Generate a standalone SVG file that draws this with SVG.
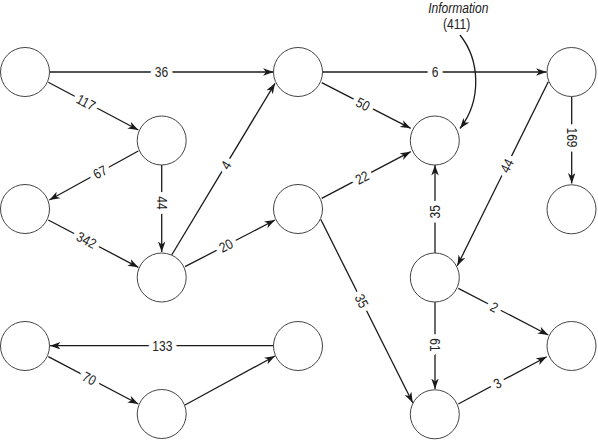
<svg xmlns="http://www.w3.org/2000/svg" width="598" height="441" viewBox="0 0 598 441">
<defs>
<marker id="arr" markerUnits="userSpaceOnUse" markerWidth="11" markerHeight="8" refX="10.5" refY="3.75" orient="auto">
<path d="M0,0 L10.5,3.75 L0,7.5 L3,3.75 Z" fill="#1a1a1a"/>
</marker>
<style>
.n{fill:#fff;stroke:#444;stroke-width:1}
.e{fill:none;stroke:#1a1a1a;stroke-width:1.3;marker-end:url(#arr)}
.u{fill:none;stroke:#1a1a1a;stroke-width:1.3}
.l{font-family:"Liberation Sans",Arial,sans-serif;font-size:14px;fill:#222;text-anchor:middle;stroke:#fff;stroke-width:11;stroke-linejoin:round;paint-order:stroke}
.t{font-family:"Liberation Sans",Arial,sans-serif;font-size:14px;fill:#222;text-anchor:middle}
</style>
</defs>
<rect width="598" height="441" fill="#fff"/>
<g id="connectors">
<line class="e" x1="50" y1="72" x2="273.5" y2="72"/>
<line class="e" x1="48.3" y1="82.3" x2="138.3" y2="130"/>
<line class="e" x1="138.3" y1="151" x2="49.3" y2="200"/>
<line class="e" x1="161.7" y1="165" x2="161.7" y2="252"/>
<line class="e" x1="48.3" y1="220" x2="138.3" y2="267.3"/>
<line class="e" x1="171.7" y1="255" x2="275" y2="83.3"/>
<line class="e" x1="185" y1="266.7" x2="275" y2="220"/>
<line class="e" x1="323" y1="72" x2="546.5" y2="72"/>
<line class="e" x1="321.7" y1="82.7" x2="410.7" y2="128.3"/>
<line class="e" x1="321.7" y1="198.3" x2="410.7" y2="151.7"/>
<line class="e" x1="320.7" y1="219.3" x2="412.7" y2="402.7"/>
<line class="e" x1="571.7" y1="96.7" x2="571.7" y2="183.5"/>
<line class="e" x1="548.3" y1="81.7" x2="457.3" y2="265.7"/>
<line class="e" x1="435" y1="253" x2="435" y2="165"/>
<line class="e" x1="458.3" y1="288.3" x2="548.3" y2="335"/>
<line class="e" x1="435" y1="301.7" x2="435" y2="389"/>
<line class="e" x1="458.3" y1="404" x2="546.7" y2="356.7"/>
<line class="e" x1="273.3" y1="345.7" x2="50" y2="345.7"/>
<line class="e" x1="48.3" y1="356.7" x2="138.3" y2="404"/>
<line class="e" x1="185" y1="405" x2="275" y2="356"/>
<path class="e" d="M460,35 C480,60 482,100 460,128.5"/>
<text class="l" transform="translate(161.5 72) scale(0.86 1)" dy="5">36</text>
<text class="l" transform="translate(86 102.3) rotate(27.9) scale(0.86 1)" dy="5">117</text>
<text class="l" transform="translate(100 172) rotate(-28.8) scale(0.86 1)" dy="5">67</text>
<text class="l" transform="translate(161.7 203) rotate(90) scale(0.86 1)" dy="5">44</text>
<text class="l" transform="translate(86.5 240) rotate(27.7) scale(0.86 1)" dy="5">342</text>
<text class="l" transform="translate(226 165) rotate(-59) scale(0.86 1)" dy="5">4</text>
<text class="l" transform="translate(226 245.5) rotate(-27.4) scale(0.86 1)" dy="5">20</text>
<text class="l" transform="translate(435 72) scale(0.86 1)" dy="5">6</text>
<text class="l" transform="translate(363 104) rotate(27.1) scale(0.86 1)" dy="5">50</text>
<text class="l" transform="translate(362 177.5) rotate(-27.6) scale(0.86 1)" dy="5">22</text>
<text class="l" transform="translate(361.7 301) rotate(63.4) scale(0.86 1)" dy="5">35</text>
<text class="l" transform="translate(571.7 137.5) rotate(90) scale(0.86 1)" dy="5">169</text>
<text class="l" transform="translate(506.7 165.7) rotate(-63.7) scale(0.86 1)" dy="5">44</text>
<text class="l" transform="translate(435 211.7) rotate(-90) scale(0.86 1)" dy="5">35</text>
<text class="l" transform="translate(494.3 307) rotate(27.4) scale(0.86 1)" dy="5">2</text>
<text class="l" transform="translate(435 345) rotate(90) scale(0.86 1)" dy="5">61</text>
<text class="l" transform="translate(497.3 383.2) rotate(-28.2) scale(0.86 1)" dy="5">3</text>
<text class="l" transform="translate(162.3 345.7) scale(0.86 1)" dy="5">133</text>
<text class="l" transform="translate(89.3 378.3) rotate(27.7) scale(0.86 1)" dy="5">70</text>
</g>
<g id="info">
<text class="t" font-style="italic" transform="translate(458.3 13) scale(0.86 1)">Information</text>
<text class="t" transform="translate(456.7 28.5) scale(0.86 1)">(411)</text>
</g>
<g id="nA"><circle class="n" cx="25" cy="72" r="24.5"/></g>
<g id="nB"><circle class="n" cx="161.7" cy="140.5" r="24.5"/></g>
<g id="nC"><circle class="n" cx="25" cy="209" r="24.5"/></g>
<g id="nD"><circle class="n" cx="161.7" cy="277.5" r="24.5"/></g>
<g id="nE"><circle class="n" cx="298" cy="72" r="24.5"/></g>
<g id="nF"><circle class="n" cx="298" cy="209" r="24.5"/></g>
<g id="nG"><circle class="n" cx="434.8" cy="140.5" r="24.5"/></g>
<g id="nH"><circle class="n" cx="571.5" cy="72" r="24.5"/></g>
<g id="nI"><circle class="n" cx="571.5" cy="209.3" r="24.5"/></g>
<g id="nJ"><circle class="n" cx="434.8" cy="277.5" r="24.5"/></g>
<g id="nK"><circle class="n" cx="571.5" cy="346" r="24.5"/></g>
<g id="nL"><circle class="n" cx="25" cy="346" r="24.5"/></g>
<g id="nM"><circle class="n" cx="298" cy="346" r="24.5"/></g>
<g id="nN"><circle class="n" cx="161.7" cy="414" r="24.5"/></g>
<g id="nO"><circle class="n" cx="434.8" cy="414.3" r="24.5"/></g>
</svg>
